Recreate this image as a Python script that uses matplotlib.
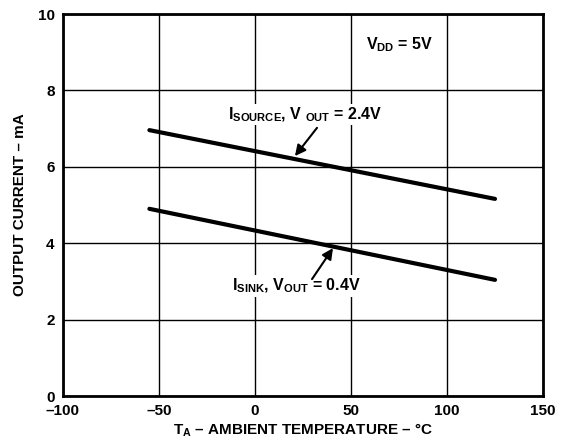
import matplotlib
matplotlib.use("Agg")
import matplotlib.pyplot as plt

# data
temp = [-55, 125]
i_source = [6.96, 5.16]
i_sink = [4.90, 3.04]

x_ticks = [-100, -50, 0, 50, 100, 150]
y_ticks = [0, 2, 4, 6, 8, 10]

plt.rcParams['font.family'] = ['Liberation Sans', 'DejaVu Sans']
plt.rcParams['font.weight'] = 'bold'
plt.rcParams['mathtext.fontset'] = 'custom'
plt.rcParams['mathtext.rm'] = 'Liberation Sans:bold'
plt.rcParams['mathtext.it'] = 'Liberation Sans:bold'
plt.rcParams['mathtext.bf'] = 'Liberation Sans:bold'
plt.rcParams['mathtext.default'] = 'rm'

fig = plt.figure(figsize=(5.69, 4.45), dpi=100)
ax = fig.add_axes([63 / 569, 1 - 396 / 445, 480 / 569, 382 / 445])

ax.plot(temp, i_source, color='k', lw=3, solid_capstyle='round', zorder=3)
ax.plot(temp, i_sink, color='k', lw=3, solid_capstyle='round', zorder=3)

ax.set_xlim(-100, 150)
ax.set_ylim(0, 10)
ax.set_xticks(x_ticks)
ax.set_yticks(y_ticks)
ax.set_xticklabels(['\u2013100', '\u201350', '0', '50', '100', '150'])
ax.tick_params(length=0, labelsize=11, pad=6)
for lab in ax.get_xticklabels() + ax.get_yticklabels():
    lab.set_fontweight('bold')
ax.grid(True, color='k', lw=1)
ax.set_axisbelow(True)
for s in ax.spines.values():
    s.set_linewidth(2)

ax.set_xlabel('T$_{A}$ \u2013 AMBIENT TEMPERATURE \u2013 \u00b0C', fontsize=11,
              fontweight='bold', labelpad=2)
ax.set_ylabel('OUTPUT CURRENT \u2013 mA', fontsize=11, fontweight='bold', labelpad=8)

box = dict(facecolor='white', edgecolor='none', pad=1)
ax.text(58, 9.19, 'V$_{DD}$ = 5V', fontsize=11.5, fontweight='bold', va='center', bbox=box)
ax.text(-14, 7.36, 'I$_{SOURCE}$, V $_{OUT}$ = 2.4V', fontsize=11.5, fontweight='bold',
        va='center', bbox=box)
ax.text(-12, 2.88, 'I$_{SINK}$, V$_{OUT}$ = 0.4V', fontsize=11.5, fontweight='bold',
        va='center', bbox=box)

arrow = dict(arrowstyle='-|>', color='k', lw=1.5, mutation_scale=16, shrinkA=0, shrinkB=0)
ax.annotate('', xy=(20.8, 6.28), xytext=(32.3, 7.02), arrowprops=arrow)
ax.annotate('', xy=(40.6, 3.87), xytext=(29.7, 3.06), arrowprops=arrow)

fig.savefig('out.png', dpi=100)
